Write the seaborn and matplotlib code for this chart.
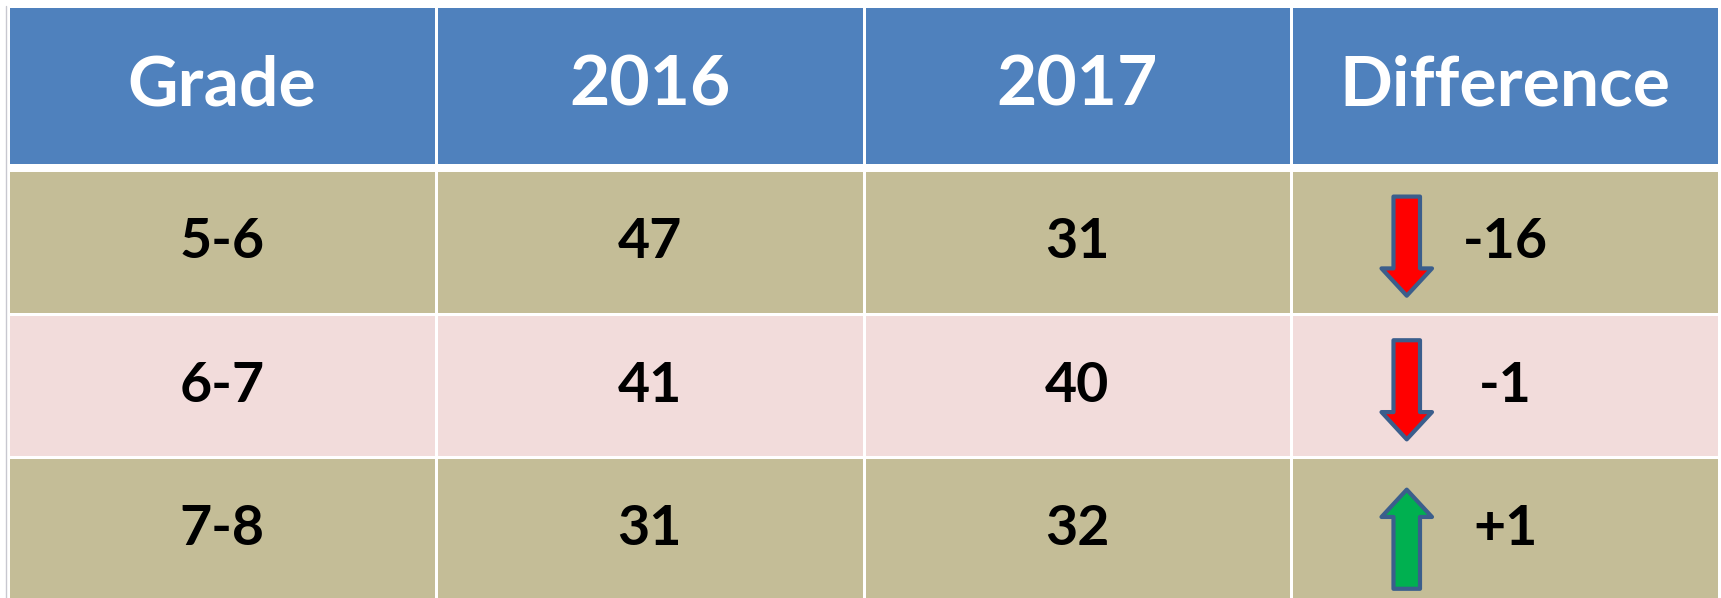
import numpy as np
import pandas as pd
import seaborn as sns
import matplotlib.pyplot as plt
from matplotlib.colors import ListedColormap
from matplotlib.patches import FancyArrow

# table data
headers = ['Grade', '2016', '2017', 'Difference']
grades = ['5-6', '6-7', '7-8']
y2016 = [47, 41, 31]
y2017 = [31, 40, 32]
diff = [b - a for a, b in zip(y2016, y2017)]

blue = '#4F81BD'
tan = '#C4BD97'
pink = '#F2DCDB'

sns.set_theme(style='white')
plt.rcParams['font.family'] = ['Lato', 'DejaVu Sans']

W, H = 1721, 598
fig = plt.figure(figsize=(W / 100, H / 100), dpi=100)
fig.patch.set_facecolor('white')

# header row
ax_h = fig.add_axes([8 / W, 1 - 165 / H, 1711 / W, 159 / H])
sns.heatmap(np.zeros((1, 4)), ax=ax_h, cmap=ListedColormap([blue]), cbar=False,
            linewidths=2, linecolor='white',
            annot=np.array([headers]), fmt='',
            annot_kws={'color': 'white', 'fontsize': 50, 'fontweight': 'bold'})
ax_h.set_xticks([])
ax_h.set_yticks([])

# body rows
body = pd.DataFrame({'Grade': grades, '2016': y2016, '2017': y2017,
                     'Difference': ['%+d' % d for d in diff]})
shade = np.array([[i % 2] * 4 for i in range(len(grades))])
ax_b = fig.add_axes([8 / W, 1 - 601 / H, 1711 / W, 431 / H])
sns.heatmap(shade, ax=ax_b, cmap=ListedColormap([tan, pink]), vmin=0, vmax=1,
            cbar=False, linewidths=2, linecolor='white',
            annot=body.astype(str).values, fmt='',
            annot_kws={'color': 'black', 'fontsize': 40, 'fontweight': 'bold'})
ax_b.set_xticks([])
ax_b.set_yticks([])

# arrows in difference column
L = 0.69
for i, d in enumerate(diff):
    cy = i + 0.5 + (0.07 if d > 0 else 0.03)
    if d < 0:
        start, dy = cy - L / 2, L
        col = '#FF0000'
    else:
        start, dy = cy + L / 2, -L
        col = '#00B050'
    arr = FancyArrow(3.27, start, 0, dy, width=0.062, head_width=0.118,
                     head_length=0.19, length_includes_head=True,
                     facecolor=col, edgecolor='#3B5E8C', linewidth=3,
                     joinstyle='round')
    ax_b.add_patch(arr)

fig.add_artist(plt.Line2D([6 / W, 6 / W], [0, 1 - 6 / H], color='#C8C8D0', linewidth=1))

fig.savefig('out.png', dpi=100)
